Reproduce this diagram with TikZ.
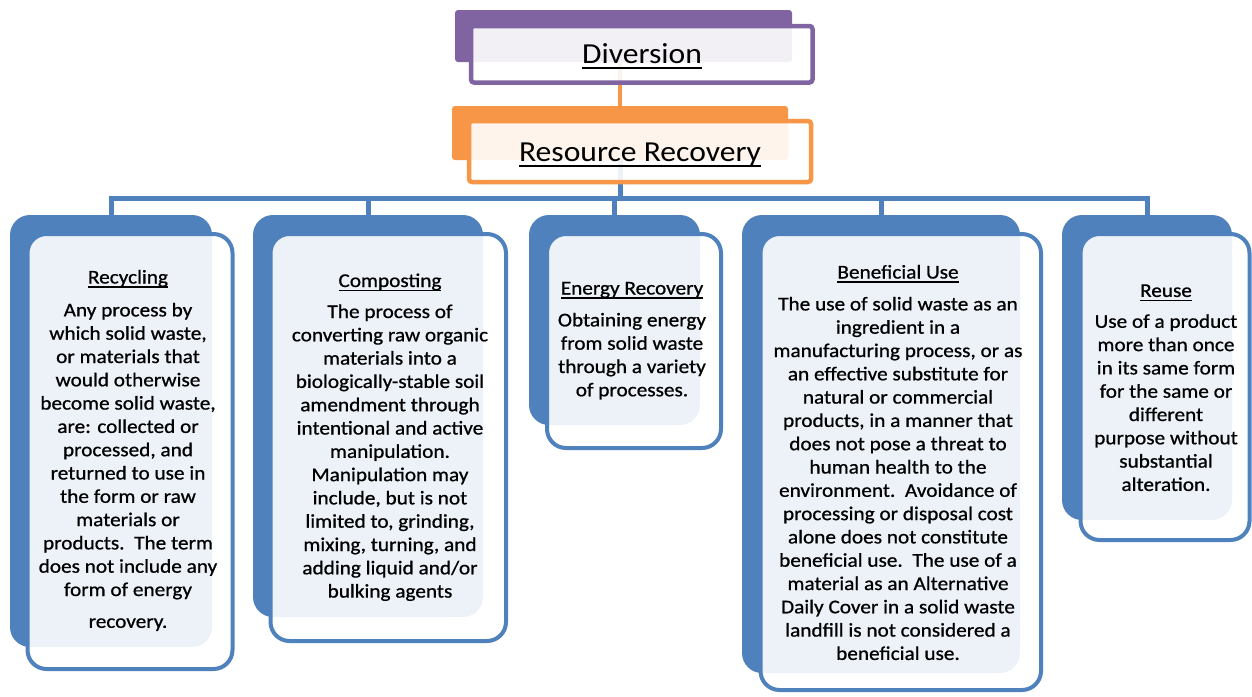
\documentclass[tikz,border=0pt]{standalone}
\usepackage{fontspec}
\setmainfont{Carlito}[FakeStretch=1.09,FakeBold=0.8]
\newfontfamily\topfont{Carlito}[FakeStretch=1.09]
\definecolor{ablue}{HTML}{4F81BD}
\definecolor{apurple}{HTML}{8064A2}
\definecolor{aorange}{HTML}{F79646}
\pgfdeclarelayer{bg}
\pgfsetlayers{bg,main}
\newcommand\myul[3]{\setbox0\hbox{#3}\rlap{\rule[-#1]{\wd0}{#2}}\box0}
\newcommand\mkbox[6]{\node[#6, minimum width={(#4)-(#2)}, minimum height={(#5)-(#3)}] (#1) at ({((#2)+(#4))/2},{((#3)+(#5))/2}) {};}
\tikzset{
  backbox/.style={rectangle, rounded corners=20pt, fill=#1, draw=none, inner sep=0pt},
  frontbox/.style={rectangle, rounded corners=19pt, draw=#1, line width=4pt, fill=white, fill opacity=0.9, inner sep=0pt},
  topback/.style={rectangle, rounded corners=3pt, fill=#1, draw=none, inner sep=0pt},
  topfront/.style={rectangle, rounded corners=3pt, draw=#1, line width=4.5pt, fill=white, fill opacity=0.9, inner sep=0pt},
  bodytext/.style={align=center, inner sep=0pt, anchor=north, text=black, font=\fontsize{19.5}{23.3}\selectfont},
  toptext/.style={inner sep=0pt, anchor=base, text=black, font=\topfont\fontsize{29}{34}\selectfont},
  conn/.style={line width=5pt, draw=ablue},
  oconn/.style={line width=4pt, draw=aorange}
}
\begin{document}
\begin{tikzpicture}[x=1pt,y=-1pt]
\useasboundingbox (0,0) rectangle (1252,696);
% top boxes
\mkbox{divB}{455}{10}{792}{62}{topback=apurple}
\mkbox{divF}{471}{26}{812.5}{82.5}{topfront=apurple}
\node[toptext] (divT) at (642,63.3) {\myul{5.5pt}{2pt}{Diversion}};
\mkbox{rrB}{452}{106}{788}{160}{topback=aorange}
\mkbox{rrF}{469}{121}{811}{182}{topfront=aorange}
\node[toptext] (rrT) at (640,161.5) {\myul{5pt}{2pt}{Resource Recovery}};
% child boxes
\mkbox{recB}{10}{215}{212}{647}{backbox=ablue}
\mkbox{recF}{27.5}{234}{232.5}{669}{frontbox=ablue}
\mkbox{comB}{253}{215}{483}{617}{backbox=ablue}
\mkbox{comF}{270.5}{234}{506}{641}{frontbox=ablue}
\mkbox{engB}{529}{215}{700}{425}{backbox=ablue}
\mkbox{engF}{547}{234}{721}{448}{frontbox=ablue}
\mkbox{benB}{742}{215}{1020}{673}{backbox=ablue}
\mkbox{benF}{760.5}{234}{1041}{690}{frontbox=ablue}
\mkbox{reuB}{1062}{215}{1232}{520}{backbox=ablue}
\mkbox{reuF}{1080.5}{234}{1249.5}{540}{frontbox=ablue}
% texts
\node[bodytext] (recT) at (128,{283.3-16}) {\rule{0pt}{16pt}\myul{4pt}{1.3pt}{Recycling}\\[9.6pt]
Any process by\\ which solid waste,\\ or materials that\\ would otherwise\\ become solid waste,\\ are: collected or\\ processed, and\\ returned to use in\\ the form or raw\\ materials or\\ products.\ \ The term\\ does not include any\\ form of energy\\[8.5pt] recovery.};
\node[bodytext] (comT) at (390,{286.8-16}) {\rule{0pt}{16pt}\myul{4pt}{1.3pt}{Composting}\\[7.7pt]
The process of\\ converting raw organic\\ materials into a\\ biologically-stable soil\\ amendment through\\ intentional and active\\ manipulation.\\ Manipulation may\\ include, but is not\\ limited to, grinding,\\ mixing, turning, and\\ adding liquid and/or\\ bulking agents};
\node[bodytext] (engT) at (632,{294.3-16}) {\rule{0pt}{16pt}\myul{4pt}{1.3pt}{Energy Recovery}\\[8.6pt]
Obtaining energy\\ from solid waste\\ through a variety\\ of processes.};
\node[bodytext] (benT) at (898,{278.3-16}) {\rule{0pt}{16pt}\myul{4pt}{1.3pt}{Beneficial Use}\\[8.6pt]
The use of solid waste as an\\ ingredient in a\\ manufacturing process, or as\\ an effective substitute for\\ natural or commercial\\ products, in a manner that\\ does not pose a threat to\\ human health to the\\ environment.\ \ Avoidance of\\ processing or disposal cost\\ alone does not constitute\\ beneficial use.\ \ The use of a\\ material as an Alternative\\ Daily Cover in a solid waste\\ landfill is not considered a\\ beneficial use.};
\node[bodytext] (reuT) at (1166,{296.7-16}) {\rule{0pt}{16pt}\myul{4pt}{1.3pt}{Reuse}\\[7.6pt]
Use of a product\\ more than once\\ in its same form\\ for the same or\\ different\\ purpose without\\ substantial\\ alteration.};
% connectors
\begin{pgfonlayer}{bg}
\draw[oconn] (rrB.north) -- (rrB.north |- divB.south);
\coordinate (bus) at (620,198);
\foreach \c in {recB,comB,engB,benB,reuB}
  \draw[conn] (rrB) -- (rrB |- bus) -| (\c);
\end{pgfonlayer}
\end{tikzpicture}
\end{document}
